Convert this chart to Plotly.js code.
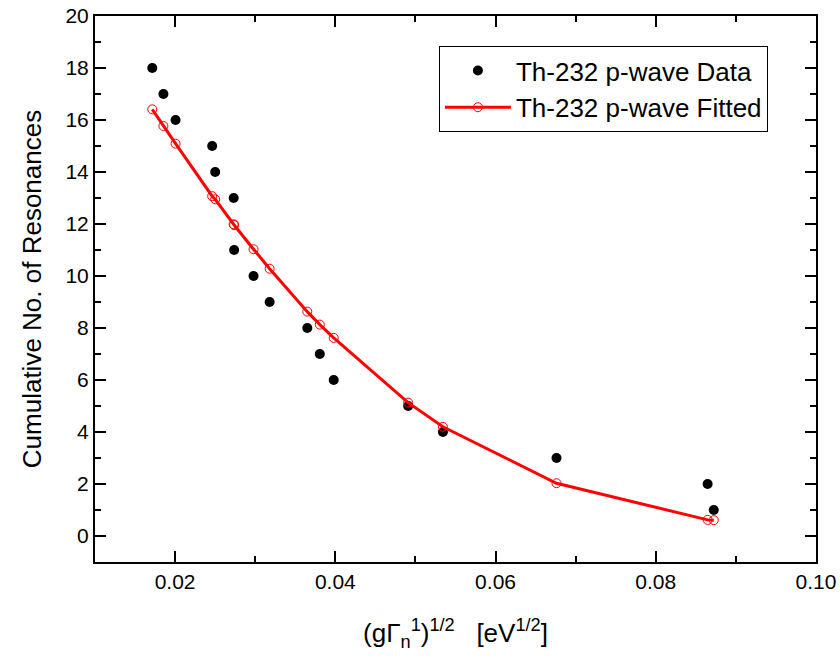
<!DOCTYPE html>
<html>
<head>
<meta charset="utf-8">
<script src="https://cdn.plot.ly/plotly-3.0.1.min.js"></script>
<style>html,body{margin:0;padding:0;background:#fff;}#chart{width:840px;height:664px;}</style>
</head>
<body>
<div id="chart"></div>
<script>
// Measured data (x in eV^1/2, y cumulative count)
const dataX = [0.01715, 0.01854, 0.02006, 0.02463, 0.02500, 0.02731, 0.02737, 0.02979, 0.03180, 0.03650, 0.03806, 0.03980, 0.04909, 0.05343, 0.06761, 0.08647, 0.08724];
const dataY = [18, 17, 16, 15, 14, 13, 11, 10, 9, 8, 7, 6, 5, 4, 3, 2, 1];
const fitY  = [16.41, 15.77, 15.09, 13.07, 12.95, 11.99, 11.96, 11.03, 10.28, 8.63, 8.13, 7.62, 5.13, 4.2, 2.03, 0.62, 0.61];
const dataName = "Th-232 p-wave Data";
const fitName = "Th-232 p-wave Fitted";
const xTitle = "(gΓ<sub>n</sub><sup>1</sup>)<sup>1/2</sup>   [eV<sup>1/2</sup>]";
const yTitle = "Cumulative No. of Resonances";

const font = "Liberation Sans, Arial, sans-serif";

const traces = [
  {
    x: dataX, y: dataY, name: dataName, type: "scatter", mode: "markers",
    marker: {color: "black", size: 10, symbol: "circle"}
  },
  {
    x: dataX, y: fitY, name: fitName, type: "scatter", mode: "lines+markers",
    line: {color: "#ff0000", width: 3},
    marker: {color: "#ff0000", size: 9, symbol: "circle-open", line: {width: 1, color: "#ff0000"}}
  }
];

const axisCommon = {
  showgrid: false, zeroline: false, showline: true, linecolor: "black", linewidth: 2,
  mirror: "ticks", ticks: "inside", ticklen: 11, tickwidth: 2, tickcolor: "black",
  tickfont: {family: font, size: 21, color: "black"}
};

const layout = {
  width: 840, height: 664,
  margin: {l: 95, r: 24, t: 16, b: 102},
  paper_bgcolor: "white", plot_bgcolor: "white",
  font: {family: font, color: "black"},
  showlegend: true,
  legend: {
    x: 0.477, y: 0.945, xanchor: "left", yanchor: "top",
    bordercolor: "black", borderwidth: 1, bgcolor: "white",
    font: {family: font, size: 26, color: "black"},
    tracegroupgap: 0, itemwidth: 66
  },
  xaxis: Object.assign({}, axisCommon, {
    range: [0.01, 0.10], dtick: 0.02, tick0: 0, tickformat: ".2f",
    minor: {ticks: "inside", ticklen: 6, tickwidth: 2, tickcolor: "black", dtick: 0.01},
    title: {text: xTitle, font: {family: font, size: 26, color: "black"}, standoff: 32}
  }),
  yaxis: Object.assign({}, axisCommon, {
    range: [-1, 20], dtick: 2, tick0: 0,
    minor: {ticks: "inside", ticklen: 6, tickwidth: 2, tickcolor: "black", dtick: 1},
    title: {text: yTitle, font: {family: font, size: 26, color: "black"}, standoff: 16}
  })
};

Plotly.newPlot("chart", traces, layout, {displayModeBar: false, staticPlot: true});
</script>
</body>
</html>
